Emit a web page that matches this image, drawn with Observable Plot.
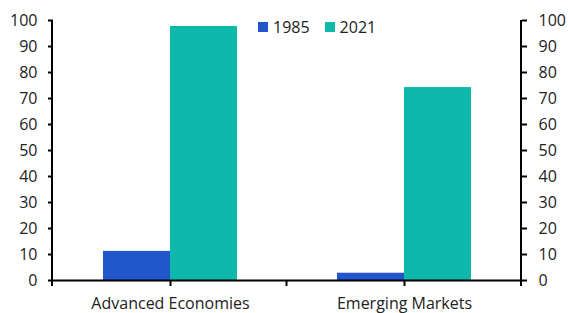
<!DOCTYPE html>
<html><head><meta charset="utf-8">
<script src="https://cdn.jsdelivr.net/npm/d3@7"></script>
<script src="https://cdn.jsdelivr.net/npm/@observablehq/plot@0.6"></script>
<style>
body{margin:0;background:#fff;}
#chart{position:relative;width:568px;height:313px;font-family:"Open Sans",sans-serif;color:#222;}
#legend{position:absolute;left:258px;top:16px;display:flex;align-items:center;font-size:16px;line-height:22px;}
#legend .item{display:flex;align-items:center;margin-right:15px;}
#legend .sw{width:10px;height:10px;margin-right:5px;}
</style></head><body><div id="chart"><div id="legend"></div></div>
<script>
const categories = ["Advanced Economies", "Emerging Markets"];
const series = ["1985", "2021"];
const values1985 = [11.2, 2.8];
const values2021 = [97.7, 74.2];
const yTicks = [0, 10, 20, 30, 40, 50, 60, 70, 80, 90, 100];
const colors = ["#2257CC", "#0EB8AA"];

const data = categories.flatMap((c, i) => [
  {cat: c, year: series[0], value: values1985[i]},
  {cat: c, year: series[1], value: values2021[i]}
]);

const plot = Plot.plot({
  width: 568, height: 313,
  marginLeft: 52, marginRight: 47, marginTop: 20, marginBottom: 33,
  style: {fontFamily: "'Open Sans', sans-serif", fontSize: "16px", color: "#222", background: "white", overflow: "visible"},
  fx: {domain: categories, padding: 0, label: null},
  x: {domain: series, paddingInner: 0, paddingOuter: 0.746, axis: null},
  y: {domain: [0, 100], label: null},
  color: {domain: series, range: colors},
  marks: [
    Plot.barY(data, {fx: "cat", x: "year", y: "value", fill: "year"}),
    Plot.ruleY([0], {stroke: "#000", strokeWidth: 2}),
    Plot.axisY(yTicks, {anchor: "left", tickSize: 5, tickPadding: 11, stroke: "#000", strokeWidth: 2, label: null}),
    Plot.axisY(yTicks, {anchor: "right", tickSize: 5, tickPadding: 12, stroke: "#000", strokeWidth: 2, label: null}),
    Plot.axisFx({anchor: "bottom", tickSize: 6, tickPadding: 11, stroke: "#000", strokeWidth: 2, label: null})
  ]
});

// Axis frame lines and category boundary ticks, from the plot's own scales
const fxS = plot.scale("fx"), yS = plot.scale("y");
const fxScale = d3.scaleBand().domain(fxS.domain).range(fxS.range).paddingInner(fxS.paddingInner || 0).paddingOuter(fxS.paddingOuter || 0);
const yScale = d3.scaleLinear().domain(yS.domain).range(yS.range);
const svg = d3.select(plot);
const g = svg.append("g").attr("stroke", "#000").attr("stroke-width", 2);
const x0 = fxScale(categories[0]);
const xEnd = fxScale(categories[categories.length - 1]) + fxScale.bandwidth();
const y0 = yScale(0), yTop = yScale(100);
g.append("line").attr("x1", x0).attr("x2", x0).attr("y1", yTop).attr("y2", y0 + 6);
g.append("line").attr("x1", xEnd).attr("x2", xEnd).attr("y1", yTop).attr("y2", y0 + 6);
categories.slice(1).forEach(c => {
  const xb = fxScale(c);
  g.append("line").attr("x1", xb).attr("x2", xb).attr("y1", y0).attr("y2", y0 + 6);
});

document.getElementById("chart").appendChild(plot);

const legend = document.getElementById("legend");
series.forEach((s, i) => {
  const item = document.createElement("div");
  item.className = "item";
  item.innerHTML = `<span class="sw" style="background:${colors[i]}"></span><span>${s}</span>`;
  legend.appendChild(item);
});
</script>
</body></html>
